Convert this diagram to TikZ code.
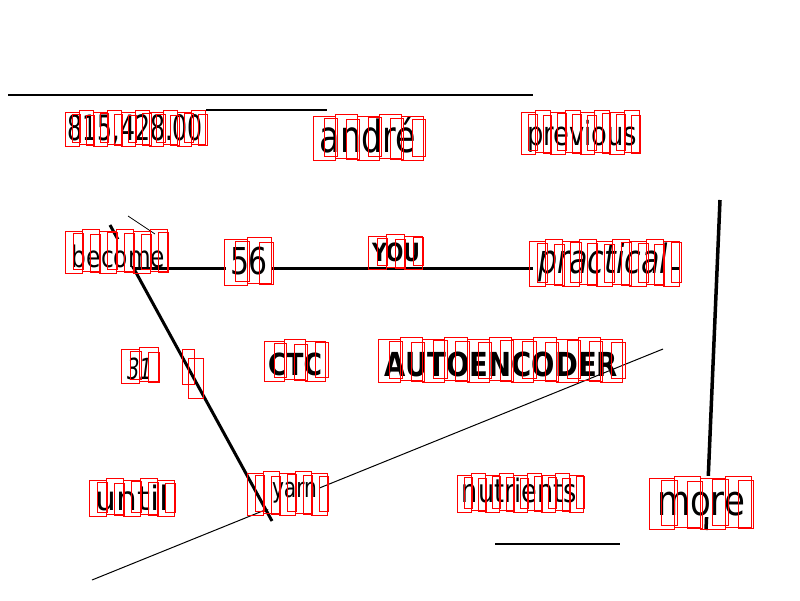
\documentclass[tikz,border=0pt]{standalone}
\usepackage{fontspec}
\usepackage{graphicx}
\setmainfont{DejaVu Sans}
\definecolor{boxred}{RGB}{255,0,0}
\tikzset{
  mask/.style={fill=white, draw=none},
  ln/.style={draw=black, line cap=butt},
  rb/.style={draw=boxred, line width=1.3pt},
}
\newcommand\wordnode[7]{%
  \node[inner sep=0pt, anchor=center, text=black] (#1) at ({(#2+#4)/2},{(#3+#5)/2})
    {\resizebox*{\dimexpr #4pt-#2pt\relax}{\dimexpr #5pt-#3pt\relax}{#6#7}};%
}
\newcommand\rboxes[5]{%
  \pgfmathsetmacro\rbw{(#3-#1)/#5}%
  \draw[rb] foreach \i in {1,...,#5}{
      ({floor(#1+(\i-1)*\rbw)+0.5},{#2+mod(\i,2)*2+0.5}) rectangle ({floor(#1+\i*\rbw)+0.5},{#4-mod(\i+1,2)*2+0.5})
      ({floor(#1+(\i-0.5)*\rbw)+0.5},{#2+3+mod(\i,3)+0.5}) rectangle ({floor(#1+(\i+0.1)*\rbw)+0.5},{#4-1-mod(\i,2)*3+0.5})
    };%
}
\begin{document}
\begin{tikzpicture}[x=1pt,y=-1pt]
\useasboundingbox (0,0) rectangle (800,600);
\fill[white] (0,0) rectangle (800,600);
% free coordinates of the lines
\coordinate (t1) at (8,95);   \coordinate (t2) at (533,95);
\coordinate (u1) at (190,110); \coordinate (u2) at (327,110);
\coordinate (h1) at (133,268); \coordinate (h2) at (680,268);
\coordinate (d1) at (92,580);  \coordinate (d2) at (663,349);
\coordinate (k1) at (110,225); \coordinate (k2) at (272,521);
\coordinate (s1) at (128,216); \coordinate (s2) at (155,234);
\coordinate (v1) at (720,200); \coordinate (v2) at (706,530);
\coordinate (b1) at (495,544); \coordinate (b2) at (620,544);
% lines
\draw[ln, line width=1.2pt] (t1) -- (t2);
\draw[ln, line width=2.2pt] (u1) -- (u2);
\draw[ln, line width=3pt] (h1) -- (h2);
\draw[ln, line width=1pt] (d1) -- (d2);
\fill[mask] (263,481) rectangle (320,509);
\wordnode{yarn}{272}{482}{317}{503}{}{yarn}
\draw[ln, line width=3pt] (k1) -- (k2);
\draw[ln, line width=0.8pt] (s1) -- (s2);
\draw[ln, line width=3.5pt] (v1) -- (v2);
\draw[ln, line width=1.5pt] (b1) -- (b2);
% masks
\fill[mask] (64,108) rectangle (206,146);
\fill[mask] (68,239) rectangle (170,266);
\fill[mask] (226,244) rectangle (271,279);
\fill[mask] (533,240) rectangle (672,285);
\fill[mask] (650,476) rectangle (752,517);
% words
\wordnode{num}{68}{115}{203}{145}{}{815,428.00}
\wordnode{andre}{320}{117}{416}{153}{}{andré}
\wordnode{previous}{527}{120}{637}{152}{}{previous}
\wordnode{become}{72}{245}{165}{268}{}{become}
\wordnode{fiftysix}{230}{247}{268}{275}{}{56}
\wordnode{you}{372}{243}{420}{262}{\bfseries}{YOU}
\wordnode{practical}{538}{243}{668}{282}{\itshape}{practical}
\wordnode{thirtyone}{127}{358}{152}{380}{\itshape}{31}
\wordnode{ctc}{268}{353}{322}{376}{\bfseries}{CTC}
\wordnode{auto}{385}{352}{618}{377}{\bfseries}{AUTOENCODER}
\wordnode{until}{96}{485}{169}{511}{}{until}
\wordnode{nutrients}{462}{478}{577}{503}{}{nutrients}
\wordnode{more}{657}{492}{745}{516}{}{more}
% red character boxes
\rboxes{65}{110}{206}{146}{10}
\rboxes{313}{114}{423}{160}{5}
\rboxes{521}{110}{639}{154}{8}
\rboxes{65}{229}{167}{273}{6}
\rboxes{224}{237}{271}{285}{2}
\rboxes{368}{234}{422}{269}{3}
\rboxes{529}{239}{680}{286}{9}
\rboxes{121}{347}{158}{383}{2}
\draw[rb] (182.5,349.5) rectangle (194.5,384.5) (188.5,358.5) rectangle (203.5,398.5);
\rboxes{264}{339}{326}{381}{3}
\rboxes{378}{337}{623}{382}{11}
\rboxes{89}{478}{174}{516}{5}
\rboxes{247}{471}{327}{515}{5}
\rboxes{457}{473}{583}{512}{9}
\rboxes{649}{476}{751}{529}{4}
\end{tikzpicture}
\end{document}
